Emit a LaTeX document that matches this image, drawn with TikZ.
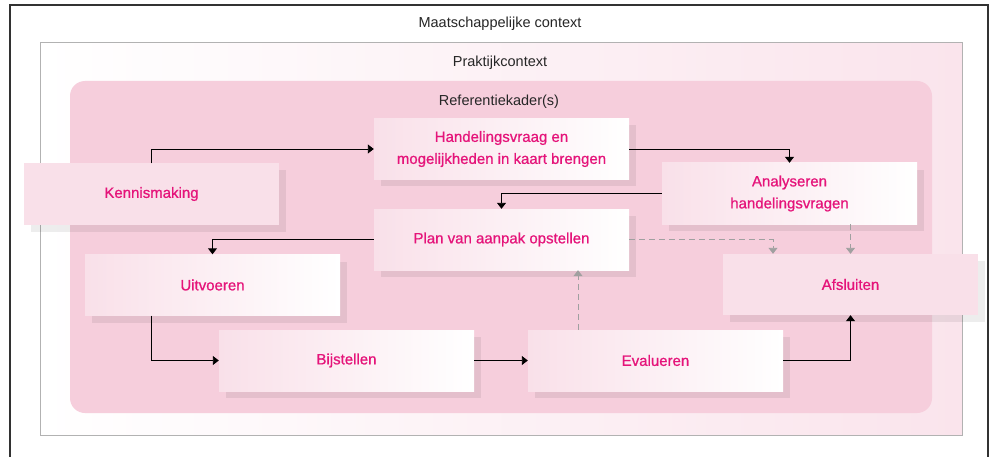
\documentclass[tikz,border=0pt]{standalone}
\usepackage{fontspec}
\setmainfont{Liberation Sans}
\newfontfamily\stepfont[FakeBold=0.8]{Liberation Sans}
\usetikzlibrary{arrows.meta,shadows,calc}
\definecolor{pinktxt}{RGB}{229,20,122}
\definecolor{pinkA}{RGB}{249,224,233}
\definecolor{pinkB}{RGB}{246,206,220}
\definecolor{pinkC}{RGB}{250,228,236}
\definecolor{grayline}{RGB}{160,160,160}
\definecolor{outerline}{RGB}{50,50,50}
\tikzset{
  stepbox/.style={minimum width=255, minimum height=61, inner sep=0pt,
    text=pinktxt, font=\stepfont\fontsize{15}{22}\selectfont, align=center,
    drop shadow={shadow xshift=7pt, shadow yshift=-7pt, fill=black, opacity=0.07}},
  solidbox/.style={stepbox, fill=pinkA},
  gradbox/.style={stepbox, left color=pinkA, right color=white},
  ctxlabel/.style={font=\fontsize{14.5}{16}\selectfont, text=black!85, inner sep=0pt},
  arr/.style={draw=black, line width=0.9pt, -{Triangle[width=9pt,length=6pt]}},
  darr/.style={draw=grayline, line width=0.9pt, dash pattern=on 6pt off 4pt, -{Triangle[width=9pt,length=6pt]}}
}
\begin{document}
\begin{tikzpicture}[x=1pt,y=-1pt]
\useasboundingbox (0,0) rectangle (995,457);
\fill[white] (0,0) rectangle (995,457);
% outer context
\draw[outerline, line width=1.2pt] (10,470) -- (10,5) -- (988,5) -- (988,470);
\node[ctxlabel] (maat) at (500,24) {Maatschappelijke context};
% practice context
\shade[left color=white, right color=pinkC] (40,43) rectangle (962,435);
\draw[black!30, line width=1pt] (40,43) rectangle (962,435);
\node[ctxlabel] (prak) at (500,63) {Praktijkcontext};
% reference frame
\fill[pinkB, rounded corners=15pt] (70,81) rectangle (932,413);
\node[ctxlabel] (ref) at (499,102) {Referentiekader(s)};
% steps
\node[solidbox] (ken) at (151.5,194) {Kennismaking};
\node[gradbox] (han) at (501.5,149) {Handelingsvraag en\\mogelijkheden in kaart brengen};
\node[gradbox] (ana) at (789.5,193.5) {Analyseren\\handelingsvragen};
\node[gradbox] (plan) at (501.5,239.5) {Plan van aanpak opstellen};
\node[gradbox] (uit) at (212.5,285) {Uitvoeren};
\node[gradbox] (bij) at (346.5,360.5) {Bijstellen};
\node[gradbox] (eva) at (655.5,360.5) {Evalueren};
\node[solidbox] (afs) at (850.5,284.5) {Afsluiten};
% connectors
\draw[arr] (ken.north) |- (han.west);
\draw[arr] (han.east) -| (ana.north);
\draw[arr] (ana.west) -| (plan.north);
\draw[arr] (plan.west) -| (uit.north);
\draw[arr] (ken.north |- uit.south) |- (bij.west);
\draw[arr] (bij.east) -- (eva.west);
\draw[arr] (eva.east) -| (afs.south);
\draw[darr] ([xshift=-77.5pt]eva.north) -- ([xshift=-77.5pt]eva.north |- plan.south);
\draw[darr] (plan.east) -| ([xshift=-77.5pt]afs.north);
\draw[darr] (afs.north |- ana.south) -- (afs.north);
\end{tikzpicture}
\end{document}
